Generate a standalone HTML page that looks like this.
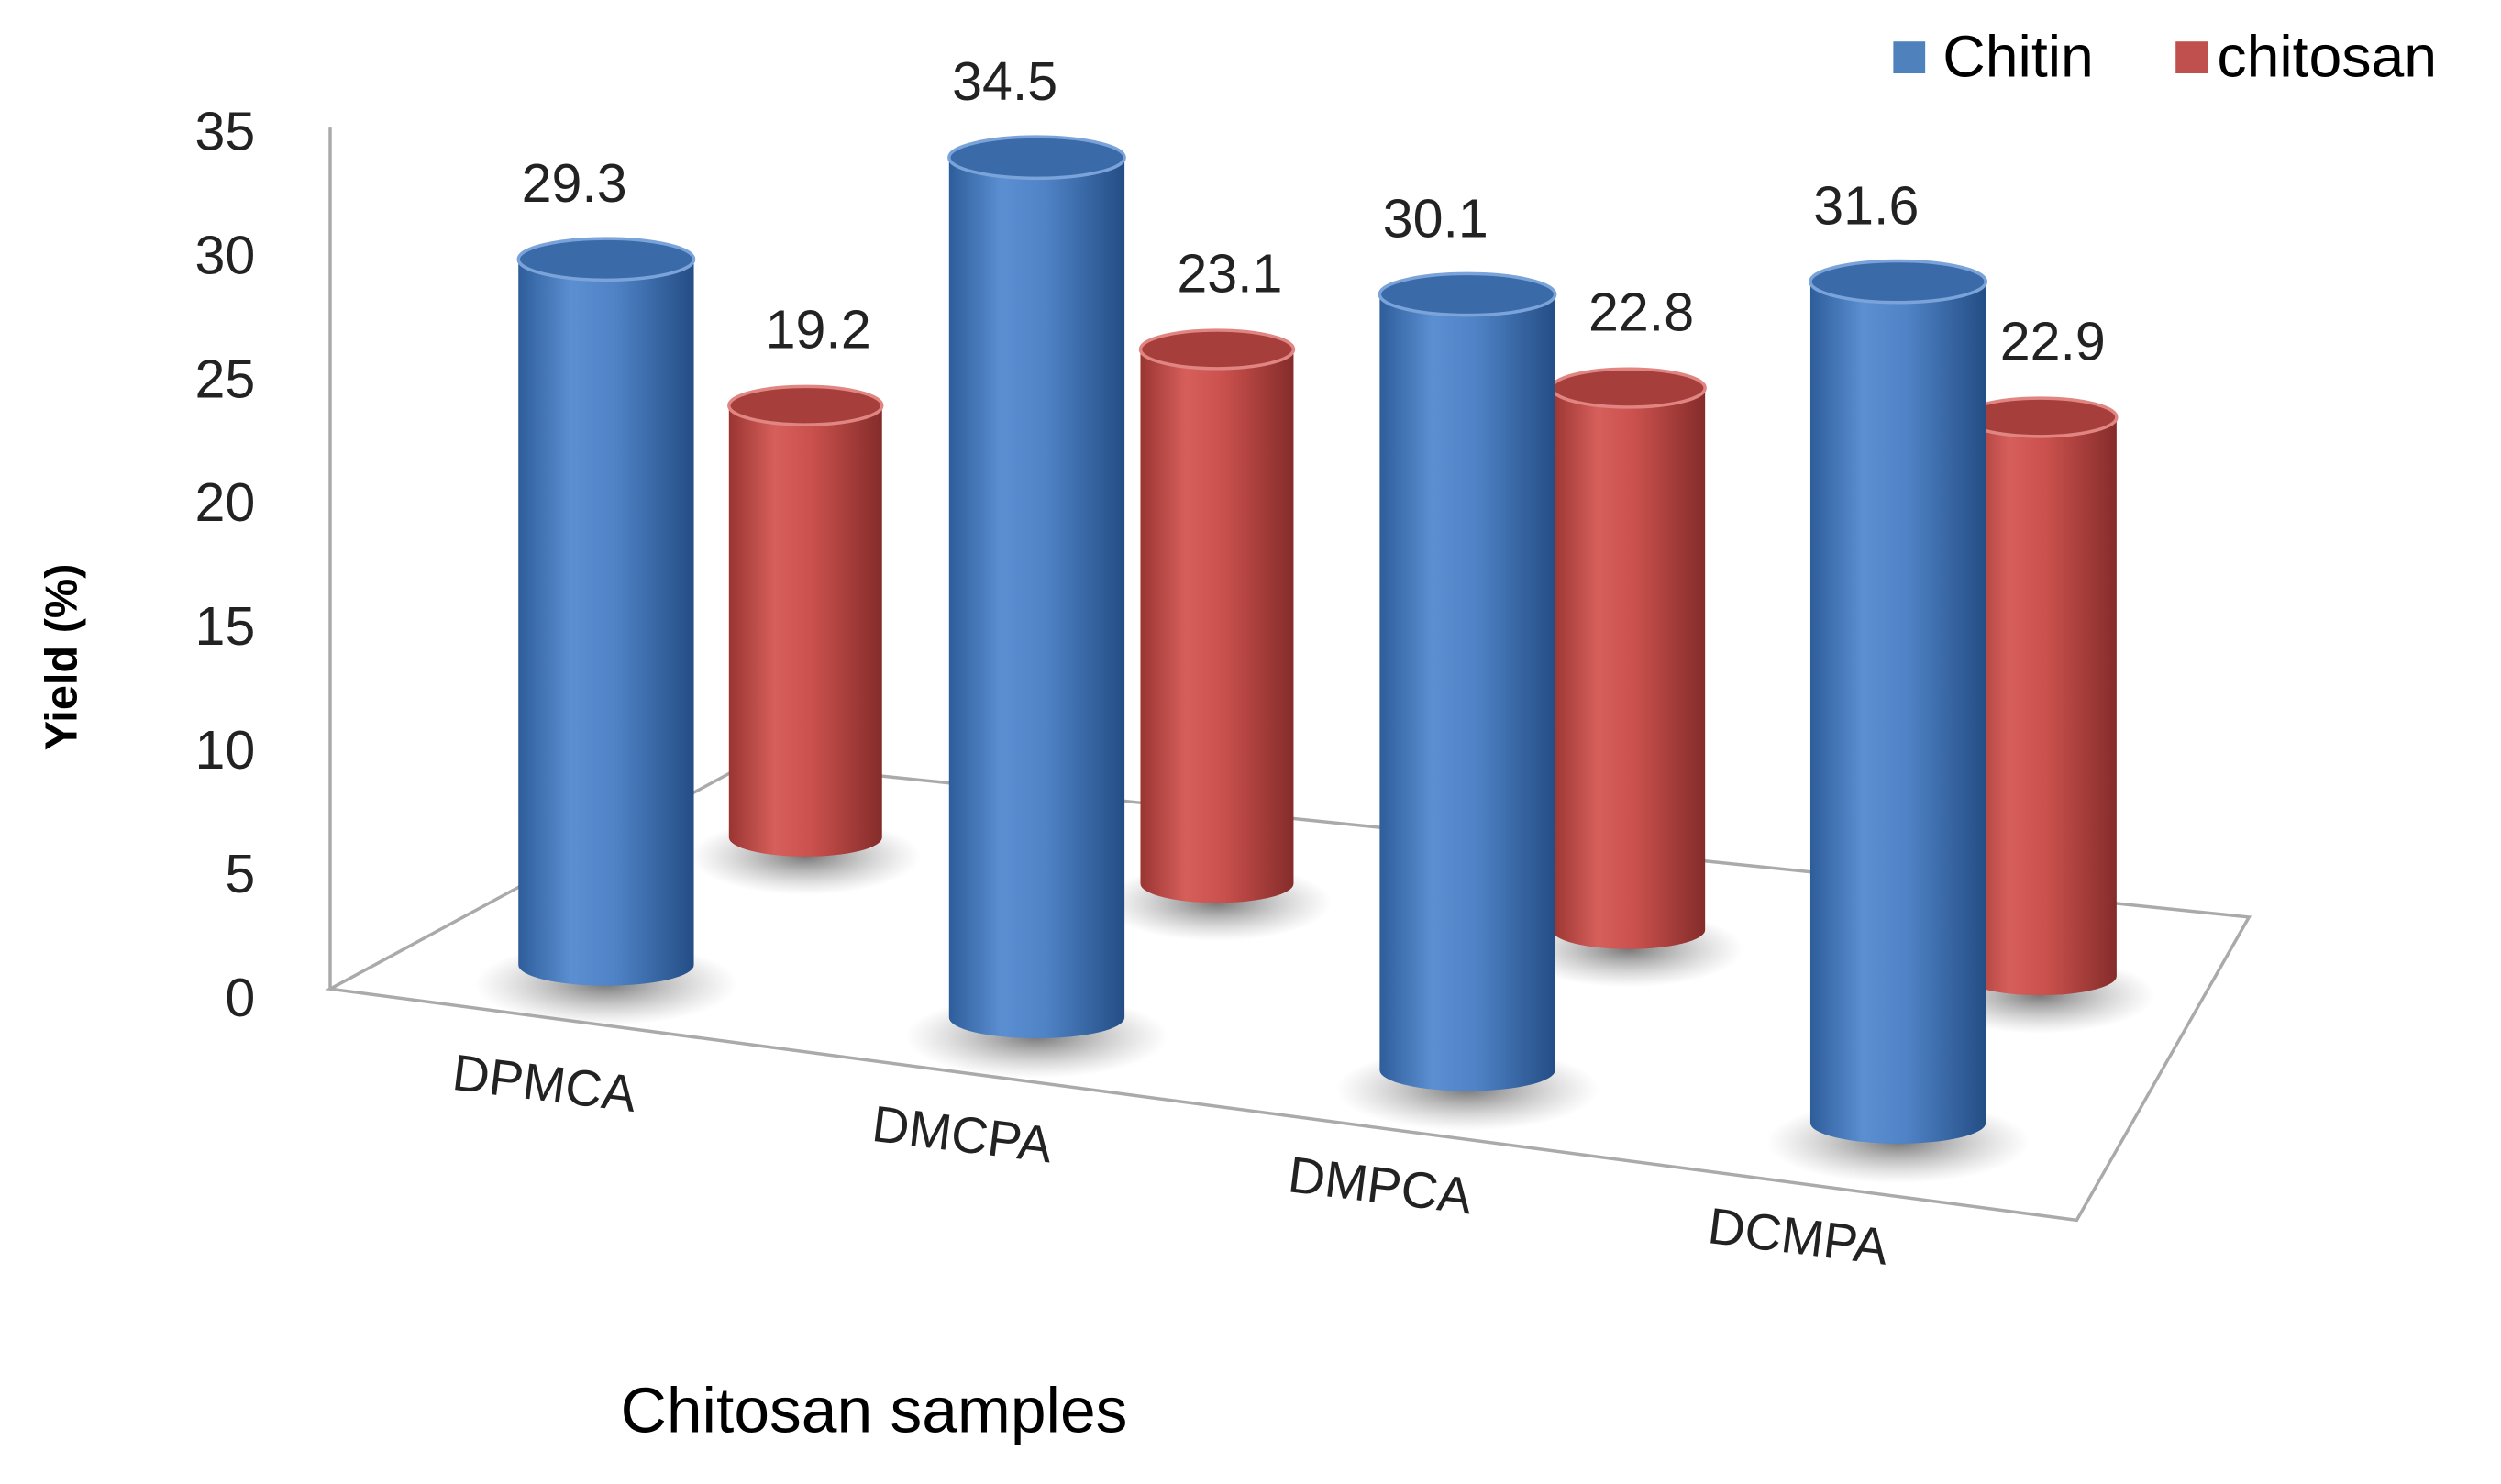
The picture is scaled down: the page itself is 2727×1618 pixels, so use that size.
<!DOCTYPE html>
<html><head><meta charset="utf-8"><style>
html,body{margin:0;padding:0;background:#fff;width:2727px;height:1618px;overflow:hidden}
svg{display:block}
text{font-family:"Liberation Sans",sans-serif}
</style></head><body>
<svg id="chart" width="2727" height="1618" viewBox="0 0 1568 930.4" preserveAspectRatio="none" xmlns="http://www.w3.org/2000/svg">
<defs>
<linearGradient id="gBlue" x1="0" x2="1" y1="0" y2="0">
<stop offset="0" stop-color="#2e5d9a"/><stop offset="0.3" stop-color="#5b8fd2"/><stop offset="0.55" stop-color="#4f83c6"/><stop offset="1" stop-color="#244d85"/></linearGradient>
<linearGradient id="gRed" x1="0" x2="1" y1="0" y2="0">
<stop offset="0" stop-color="#9a3532"/><stop offset="0.3" stop-color="#d75f5b"/><stop offset="0.55" stop-color="#c9504c"/><stop offset="1" stop-color="#842c2a"/></linearGradient>
<radialGradient id="gShadow"><stop offset="0" stop-color="#555" stop-opacity="0.8"/><stop offset="1" stop-color="#999" stop-opacity="0"/></radialGradient>
</defs>
<g id="floor">
<polygon points="207,620 470,478 1410,575 1302,765" fill="#fff" stroke="#aaa" stroke-width="2"/>
<line x1="207" y1="80" x2="207" y2="620" stroke="#aaa" stroke-width="2"/>
</g>
<g id="yaxis"></g>
<g id="bars"></g>
<g id="labels"></g>
<g id="xlabels"></g>
<text x="0" y="0" transform="translate(48,412) rotate(-90)" text-anchor="middle" font-size="28" font-weight="bold">Yield (%)</text>
<text x="548" y="898" text-anchor="middle" font-size="40">Chitosan samples</text>
<g>
<rect x="1187" y="26" width="20" height="20" fill="#4f81bd"/>
<text x="1218" y="48" font-size="37">Chitin</text>
<rect x="1364" y="26" width="20" height="20" fill="#c0504d"/>
<text x="1390" y="48" font-size="37">chitosan</text>
</g>
</svg>
<script>
const categories = ["DPMCA","DMCPA","DMPCA","DCMPA"];
const chitin = [29.3, 34.5, 30.1, 31.6];
const chitosan = [19.2, 23.1, 22.8, 22.9];
const yTicks = [0,5,10,15,20,25,30,35];

const NS="http://www.w3.org/2000/svg";
function mk(tag,attrs,parent){const e=document.createElementNS(NS,tag);for(const k in attrs)e.setAttribute(k,attrs[k]);parent.appendChild(e);return e;}
function yAxis(v){return 625 - v*(543/35);}
const ya=document.getElementById('yaxis');
yTicks.forEach(t=>{
  const tx=mk('text',{x:160,y:yAxis(t)+12,'text-anchor':'end','font-size':34,fill:'#222'},ya);
  tx.textContent=t;
  
  
});
const bars=document.getElementById('bars');
const labels=document.getElementById('labels');
function cyl(i,val,series){
  const blue=series==='chitin';
  const cx = blue ? 380+i*270 : 505+i*258;
  const base = blue ? 605+i*33 : 525+i*29;
  const k = blue ? 15.1+0.53*i : 14.1+0.4*i;
  const rx = blue?55:48, ry = blue?13:12;
  const top = base - val*k;
  const g=mk('g',{},bars);
  
  
  mk('ellipse',{cx:cx,cy:base+12,rx:rx*1.5,ry:ry*2,fill:'url(#gShadow)'},g);
  mk('path',{d:`M${cx-rx},${top} L${cx-rx},${base} A${rx},${ry} 0 0 0 ${cx+rx},${base} L${cx+rx},${top} Z`,fill:blue?'url(#gBlue)':'url(#gRed)'},g);
  mk('ellipse',{cx:cx,cy:top,rx:rx,ry:ry,fill:blue?'#3b6aa8':'#a63e3b',stroke:blue?'#7aa3da':'#e08582','stroke-width':2},g);
  const lb=mk('text',{x:blue?cx-20:cx+8,y:top-36,'text-anchor':'middle','font-size':34,fill:'#222'},labels);
  lb.textContent=val;
  
  
}
for(let i=0;i<categories.length;i++){cyl(i,chitosan[i],'chitosan');}
for(let i=0;i<categories.length;i++){cyl(i,chitin[i],'chitin');}
const xl=document.getElementById('xlabels');
categories.forEach((c,i)=>{
  const x=340+i*262, y=690+i*32;
  const t=mk('text',{x:x,y:y,'text-anchor':'middle','font-size':32,fill:'#222',transform:`rotate(7 ${x} ${y})`},xl);
  t.textContent=c;
  
  
});
</script>
</body></html>
